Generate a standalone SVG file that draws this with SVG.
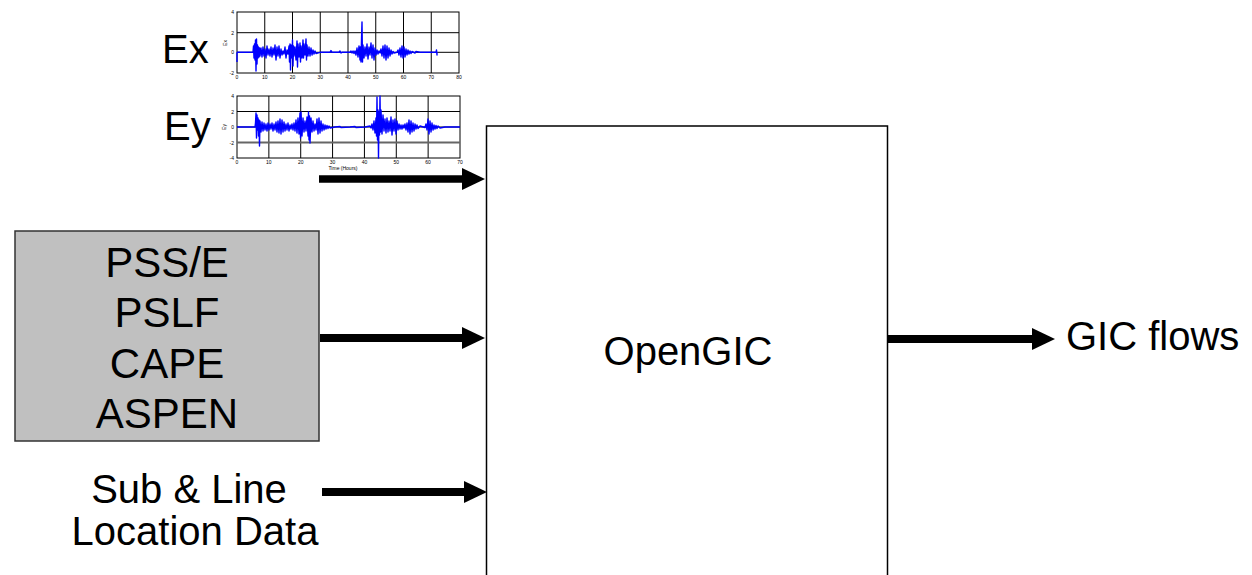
<svg xmlns="http://www.w3.org/2000/svg" width="1252" height="575" viewBox="0 0 1252 575">
<style>
.lbl{font-family:"Liberation Sans",Arial,sans-serif;fill:#000}
.big{font-size:40px}
.box{font-size:42px}
.tick{font-family:"Liberation Sans",Arial,sans-serif;font-size:5px;fill:#000}
.grid{stroke:#000;stroke-width:1;fill:none}
.sig{stroke:#0000ff;stroke-width:1.4;fill:none;stroke-linejoin:round}
.conn{stroke:#000;stroke-width:8;fill:none;marker-end:url(#ah)}
</style>
<defs>
<marker id="ah" markerUnits="userSpaceOnUse" markerWidth="23" markerHeight="22" refX="8" refY="11" orient="auto">
<path d="M0,0 L23,11 L0,22 z" fill="#000"/>
</marker>
</defs>
<rect width="1252" height="575" fill="#fff"/>

<g id="ex-chart">
<text class="lbl big" x="162" y="63">Ex</text>
<rect class="grid" x="237" y="12" width="222" height="61"/>
<path class="grid" d="M264.75,12V73M292.5,12V73M320.25,12V73M348,12V73M375.75,12V73M403.5,12V73M431.25,12V73M237,32.7H459M237,52.3H459"/>
<path class="sig" d="M237,52.3 V62 M237,52.3 H253 L253.5,46 L254,58 L254.5,44 L255,60 L255.5,40 L256,71 L256.5,39 L257,64 L257.5,45 L258,58 L258.5,47 L259,57 L259.5,48 L260,56 L261,48 L262,57 L263,47 L264,56 L265,49 L266,58 L267,46 L268,55 L269,49 L270,56 L271,47 L272,57 L273,48 L274,55 L275,45 L276,60 L277,47 L278,56 L279,46 L280,58 L281,49 L282,55 L283,51 L284,54 L285,47 L286,58 L287,50 L288,54 L289,46 L289.5,62 L290,44 L290.5,70 L291,45 L292,58 L292.5,40 L293,66 L293.5,46 L294,56 L295,47 L296,60 L297,41 L297.5,67 L298,44 L299,57 L300,43 L300.5,62 L301,46 L302,58 L303,40 L303.5,58 L304,44 L305,55 L306,39 L306.5,60 L307,45 L308,56 L309,47 L310,56 L311,48 L312,55 L313,50 L314,54 L315,51 L316,53.5 L320,52.3 L330,52.3 L331,50.5 L332,52.3 L339,52.3 L340,51 L341,53 L342,52.3 L350,52.3 L351,51 L352,53 L353,51 L354,53.5 L355,51 L356,55 L357,48 L358,57 L359,46 L360,60 L360.5,47 L361,62 L361.5,40 L362,22 L362.5,62 L363,45 L364,58 L365,47 L366,56 L367,44 L368,59 L369,47 L370,55 L371,43 L372,58 L373,45 L374,60 L375,48 L376,55 L377,50 L378,54 L379,51 L380,53 L381,49 L382,56 L383,46 L384,58 L385,45 L386,60 L387,46 L388,58 L389,48 L390,56 L391,50 L392,54 L393,51.5 L394,53 L397,52.3 L398,50 L399,55 L400,48 L401,57 L402,46 L403,58 L404,47 L405,57 L406,49 L407,55 L408,50 L409,54 L410,51 L411,53.5 L412,51.5 L415,53 L416,51.5 L420,52.3 L436,52.3 L436.5,50 L437,55 L437,52.3"/>
<text class="tick" x="234" y="14" text-anchor="end">4</text>
<text class="tick" x="234" y="34.5" text-anchor="end">2</text>
<text class="tick" x="234" y="54" text-anchor="end">0</text>
<text class="tick" x="234" y="74.5" text-anchor="end">-2</text>
<text class="tick" transform="translate(227,43) rotate(-90)" text-anchor="middle">Ex</text>
<g text-anchor="middle">
<text class="tick" x="237" y="79">0</text>
<text class="tick" x="264.75" y="79">10</text>
<text class="tick" x="292.5" y="79">20</text>
<text class="tick" x="320.25" y="79">30</text>
<text class="tick" x="348" y="79">40</text>
<text class="tick" x="375.75" y="79">50</text>
<text class="tick" x="403.5" y="79">60</text>
<text class="tick" x="431.25" y="79">70</text>
<text class="tick" x="459" y="79">80</text>
</g>
</g>

<g id="ey-chart">
<text class="lbl big" x="164" y="140">Ey</text>
<rect class="grid" x="237" y="96" width="223" height="62"/>
<path class="grid" d="M268.86,96V158M300.71,96V158M332.57,96V158M364.43,96V158M396.29,96V158M428.14,96V158M237,111.5H460M237,127H460"/>
<path d="M237,142.5H460" stroke="#666" stroke-width="2"/>
<path class="sig" d="M237,127 H255 L255.5,123 L256,113 L256.5,138 L257,115 L257.5,130 L258,118 L258.5,136 L259,120 L259.5,146 L260,121 L261,132 L262,122 L263,131 L264,123 L265,130 L266,124 L267,131 L268,123 L269,130 L270,124 L271,129 L272,123 L273,131 L274,124 L275,130 L276,122 L277,132 L278,121 L279,133 L280,119 L281,134 L282,120 L283,132 L284,122 L285,131 L286,124 L287,130 L288,123 L289,131 L290,125 L291,129 L292,124 L293,130 L294,123 L295,131 L296,120 L297,133 L298,118 L299,134 L300,113 L300.5,138 L301,112 L302,136 L303,118 L304,132 L305,121 L306,131 L307,117 L308,136 L308.5,112 L309,140 L309.5,116 L310,143 L311,118 L312,132 L313,121 L314,131 L315,124 L316,130 L317,119 L318,134 L319,118 L320,133 L321,121 L322,131 L323,124 L324,130 L325,125 L326,129 L327,125.5 L328,128.5 L329,126 L330,128 L335,127 L340,126.5 L341,127.5 L350,127 L355,126.5 L356,127.5 L365,127 L370,126 L371,128 L372,124 L373,130 L374,121 L375,133 L376,118 L376.5,136 L377,97 L377.5,140 L378,110 L378.5,158 L379,112 L379.5,135 L380,96 L380.5,132 L381,110 L382,134 L383,115 L384,131 L385,119 L386,133 L387,118 L388,132 L389,121 L390,131 L391,117 L392,135 L393,120 L394,131 L395,119 L396,134 L397,121 L398,130 L399,124 L400,129 L401,125 L402,129 L403,125 L404,128 L405,124 L406,130 L407,123 L408,132 L409,120 L410,134 L411,121 L412,132 L413,123 L414,131 L415,124 L416,129 L417,125 L418,128.5 L420,126 L425,127.5 L426,124 L427,130 L428,119 L429,134 L430,121 L431,132 L432,123 L433,130 L434,125 L435,129 L436,125.5 L437,128.5 L438,126 L440,128 L445,127 L460,127"/>
<text class="tick" x="234" y="98" text-anchor="end">4</text>
<text class="tick" x="234" y="113.5" text-anchor="end">2</text>
<text class="tick" x="234" y="129" text-anchor="end">0</text>
<text class="tick" x="234" y="144.5" text-anchor="end">-2</text>
<text class="tick" x="234" y="160" text-anchor="end">-4</text>
<text class="tick" transform="translate(226,127) rotate(-90)" text-anchor="middle">Ey</text>
<g text-anchor="middle">
<text class="tick" x="237" y="163.5">0</text>
<text class="tick" x="268.86" y="163.5">10</text>
<text class="tick" x="300.71" y="163.5">20</text>
<text class="tick" x="332.57" y="163.5">30</text>
<text class="tick" x="364.43" y="163.5">40</text>
<text class="tick" x="396.29" y="163.5">50</text>
<text class="tick" x="428.14" y="163.5">60</text>
<text class="tick" x="460" y="163.5">70</text>
<text class="tick" x="343" y="169.5">Time (Hours)</text>
</g>
</g>

<g id="tools">
<rect x="15" y="231" width="304" height="210" fill="#c0c0c0" stroke="#333" stroke-width="1.5"/>
<g class="lbl box" text-anchor="middle">
<text x="167" y="276.5">PSS/E</text>
<text x="167" y="327">PSLF</text>
<text x="167" y="377.5">CAPE</text>
<text x="167" y="428">ASPEN</text>
</g>
</g>

<g id="location-data" class="lbl big" text-anchor="middle">
<text x="189" y="503">Sub &amp; Line</text>
<text x="195" y="545">Location Data</text>
</g>

<g id="opengic">
<rect x="486.5" y="126" width="401" height="470" fill="#fff" stroke="#000" stroke-width="1.5"/>
<text class="lbl big" x="688" y="365" text-anchor="middle">OpenGIC</text>
</g>

<g id="gic-flows">
<text class="lbl big" x="1066" y="350">GIC flows</text>
</g>

<g id="connectors">
<line class="conn" x1="319" y1="179" x2="470" y2="179" style="stroke-width:7.5"/>
<line class="conn" x1="320" y1="338" x2="470" y2="338"/>
<line class="conn" x1="322" y1="492" x2="472" y2="492"/>
<line class="conn" x1="888" y1="339" x2="1040" y2="339"/>
</g>
</svg>
